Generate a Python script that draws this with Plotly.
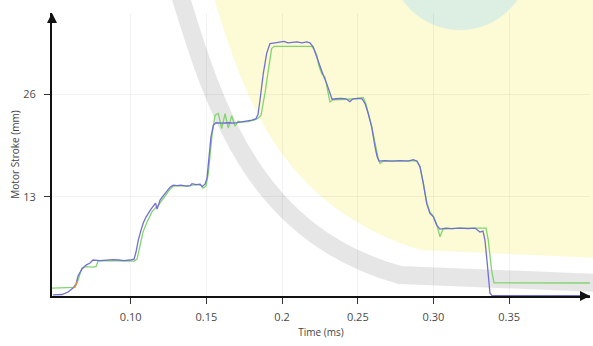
import plotly.graph_objects as go

# ---- data ----
time_blue = [0.0487, 0.0546, 0.0586, 0.0619, 0.0639, 0.0652, 0.0678, 0.0705, 0.0731, 0.0751,
             0.0797, 0.0843, 0.0883, 0.0916, 0.0956, 0.0995, 0.1022, 0.1035, 0.1050, 0.1068,
             0.1083, 0.1101, 0.1116, 0.1134, 0.1149, 0.1164, 0.1174, 0.1194, 0.1213, 0.1238,
             0.1260, 0.1281, 0.1306, 0.1332, 0.1365, 0.1392, 0.1405, 0.1431, 0.1458, 0.1471,
             0.1491, 0.1504, 0.1517, 0.1530, 0.1546, 0.1563, 0.1603, 0.1643, 0.1682, 0.1722,
             0.1762, 0.1801, 0.1828, 0.1841, 0.1854, 0.1876, 0.1898, 0.1920, 0.1953, 0.1986,
             0.2013, 0.2039, 0.2072, 0.2098, 0.2131, 0.2164, 0.2184, 0.2206, 0.2229, 0.2250,
             0.2272, 0.2295, 0.2316, 0.2330, 0.2356, 0.2389, 0.2422, 0.2448, 0.2468, 0.2501,
             0.2528, 0.2548, 0.2569, 0.2592, 0.2614, 0.2627, 0.2640, 0.2680, 0.2726, 0.2779,
             0.2832, 0.2867, 0.2891, 0.2911, 0.2933, 0.2955, 0.2977, 0.2999, 0.3021, 0.3043,
             0.3083, 0.3122, 0.3175, 0.3228, 0.3274, 0.3307, 0.3327, 0.3340, 0.3355, 0.3373,
             0.3386, 0.4034]
stroke_blue = [0.56, 0.62, 0.94, 1.44, 1.95, 2.96, 3.85, 4.35, 4.61, 4.99,
               4.92, 4.99, 5.05, 4.99, 4.92, 4.99, 5.11, 6.00, 7.52, 8.78,
               9.67, 10.43, 10.94, 11.44, 11.82, 12.20, 11.44, 12.58, 13.09, 13.63,
               14.23, 14.48, 14.42, 14.48, 14.35, 14.42, 14.67, 14.54, 14.61, 14.29,
               14.61, 15.37, 18.28, 20.56, 22.08, 22.39, 22.33, 22.39, 22.33, 22.46,
               22.58, 22.71, 22.90, 23.47, 25.24, 28.66, 31.19, 32.42, 32.52, 32.58,
               32.71, 32.52, 32.58, 32.65, 32.52, 32.65, 32.52, 31.99, 30.72, 29.46,
               28.41, 27.35, 26.09, 25.37, 25.43, 25.49, 25.43, 25.05, 25.43, 25.49,
               25.43, 24.82, 23.56, 21.86, 19.33, 18.15, 17.52, 17.58, 17.52, 17.58,
               17.52, 17.71, 17.52, 16.80, 14.70, 12.16, 10.90, 10.47, 9.42, 8.91,
               9.04, 8.97, 9.04, 8.97, 9.04, 8.53, 8.66, 7.52, 4.61, 0.81,
               0.49, 0.49]

time_green = [0.0480, 0.0599, 0.0632, 0.0652, 0.0678, 0.0705, 0.0744, 0.0771, 0.0784, 0.0830,
              0.0896, 0.0962, 0.1022, 0.1042, 0.1061, 0.1081, 0.1108, 0.1139, 0.1161, 0.1180,
              0.1207, 0.1233, 0.1260, 0.1279, 0.1326, 0.1378, 0.1425, 0.1464, 0.1478, 0.1497,
              0.1513, 0.1524, 0.1537, 0.1557, 0.1579, 0.1601, 0.1623, 0.1645, 0.1667, 0.1689,
              0.1709, 0.1735, 0.1775, 0.1814, 0.1841, 0.1861, 0.1874, 0.1890, 0.1909, 0.1931,
              0.1947, 0.1999, 0.2052, 0.2105, 0.2158, 0.2196, 0.2211, 0.2229, 0.2244, 0.2262,
              0.2283, 0.2305, 0.2316, 0.2336, 0.2382, 0.2435, 0.2488, 0.2536, 0.2554, 0.2574,
              0.2594, 0.2614, 0.2633, 0.2647, 0.2666, 0.2726, 0.2792, 0.2845, 0.2889, 0.2911,
              0.2933, 0.2957, 0.2977, 0.2999, 0.3021, 0.3043, 0.3063, 0.3109, 0.3175, 0.3241,
              0.3307, 0.3347, 0.3362, 0.3384, 0.3400, 0.3571, 0.3836, 0.4034]
stroke_green = [1.44, 1.44, 1.51, 2.46, 3.97, 4.16, 4.10, 4.16, 4.86, 4.92,
                4.92, 4.92, 4.86, 5.11, 6.89, 8.53, 9.80, 11.06, 11.57, 11.82,
                12.58, 13.34, 13.97, 14.35, 14.42, 14.35, 14.54, 14.48, 14.10, 14.35,
                16.00, 18.28, 20.81, 23.34, 23.56, 21.66, 23.53, 21.70, 23.28, 21.95,
                22.58, 22.46, 22.52, 22.71, 22.96, 23.34, 24.61, 26.51, 29.04, 31.78,
                32.08, 32.08, 32.14, 32.08, 32.14, 32.08, 31.70, 30.94, 29.54, 28.62,
                28.19, 26.29, 25.03, 25.30, 25.37, 25.37, 25.43, 25.58, 24.73, 23.34,
                21.70, 19.80, 18.03, 17.23, 17.52, 17.52, 17.58, 17.58, 17.58, 16.89,
                14.86, 12.20, 11.06, 10.56, 9.54, 7.94, 8.91, 8.97, 9.04, 9.04,
                9.04, 9.04, 7.52, 3.72, 2.11, 2.11, 2.11, 2.08]

time_orange = [0.0624, 0.0635, 0.0646]
stroke_orange = [1.45, 1.75, 2.25]

x_tick_vals = [0.10, 0.15, 0.20, 0.25, 0.30, 0.35]
x_tick_text = ["0.10", "0.15", "0.2", "0.25", "0.30", "0.35"]
y_tick_vals = [13, 26]
y_tick_text = ["13", "26"]

X_RANGE = [0.0480, 0.4034]
Y_RANGE = [0.43, 36.3]

# ---- figure ----
W, H = 593, 346
ML, MR, MT, MB = 52, 3, 13, 50
PW, PH = W - ML - MR, H - MT - MB


def px(x, y):
    """pixel position -> paper coordinates (for background watermark decoration)"""
    return (x - ML) / PW, (H - MB - y) / PH


def path(cmds):
    out = []
    for c in cmds:
        if isinstance(c, str):
            out.append(c)
        else:
            a, b = px(*c)
            out.append(f"{a:.4f},{b:.4f}")
    return " ".join(out)


fig = go.Figure()
fig.add_trace(go.Scatter(x=time_green, y=stroke_green, mode="lines",
                         line=dict(color="#82d46e", width=1.3), showlegend=False))
fig.add_trace(go.Scatter(x=time_blue, y=stroke_blue, mode="lines",
                         line=dict(color="#7070d2", width=1.3), showlegend=False))
fig.add_trace(go.Scatter(x=time_orange, y=stroke_orange, mode="lines",
                         line=dict(color="#f08a3c", width=1.3), showlegend=False))

# faint watermark in the background
shapes = [
    dict(type="path", xref="paper", yref="paper", layer="below",
         path=path(["M", (213, -5), "C", (245, 100), (280, 205), (420, 250),
                    "L", (600, 258), "L", (600, -5), "Z"]),
         fillcolor="#fdfad6", line=dict(width=0)),
    dict(type="path", xref="paper", yref="paper", layer="below",
         path=path(["M", (180, -5), "C", (215, 110), (255, 235), (400, 275),
                    "L", (600, 283)]),
         fillcolor="rgba(0,0,0,0)", line=dict(color="#e6e6e6", width=18)),
    dict(type="circle", xref="paper", yref="paper", layer="below",
         x0=px(390, 0)[0], x1=px(530, 0)[0], y0=px(0, 30)[1], y1=px(0, -110)[1],
         fillcolor="#ddefe2", line=dict(width=0)),
]

annotations = [
    dict(x=1, y=0, xref="paper", yref="paper", ax=-10, ay=0, text="",
         showarrow=True, arrowhead=2, arrowsize=1, arrowwidth=2, arrowcolor="#111"),
    dict(x=0, y=1, xref="paper", yref="paper", ax=0, ay=10, text="",
         showarrow=True, arrowhead=2, arrowsize=1, arrowwidth=2, arrowcolor="#111"),
]

fig.update_layout(
    width=W, height=H,
    margin=dict(l=ML, r=MR, t=MT, b=MB, autoexpand=False),
    paper_bgcolor="white", plot_bgcolor="rgba(0,0,0,0)",
    font=dict(family="Open Sans", size=11, color="#4a4a4a"),
    hovermode=False,
    shapes=shapes, annotations=annotations,
    xaxis=dict(range=X_RANGE, tickvals=x_tick_vals, ticktext=x_tick_text,
               showgrid=True, gridcolor="rgba(0,0,0,0.05)", gridwidth=1,
               showline=True, linecolor="#111", linewidth=2,
               ticks="outside", ticklen=6, tickcolor="#333", tickwidth=1,
               zeroline=False, ticklabelstandoff=4, automargin=False,
               title=dict(text="Time (ms)", font=dict(size=10, color="#444"), standoff=6)),
    yaxis=dict(range=Y_RANGE, tickvals=y_tick_vals, ticktext=y_tick_text,
               showgrid=True, gridcolor="rgba(0,0,0,0.05)", gridwidth=1,
               showline=True, linecolor="#111", linewidth=2,
               ticks="outside", ticklen=6, tickcolor="#333", tickwidth=1,
               zeroline=False, ticklabelstandoff=6, automargin=False,
               title=dict(text="Motor Stroke (mm)", font=dict(size=10, color="#444"), standoff=2)),
)

fig.write_html("out.html",
               config={"displayModeBar": False, "staticPlot": True},
               post_script="document.body.style.margin='0';document.body.style.padding='0';")
